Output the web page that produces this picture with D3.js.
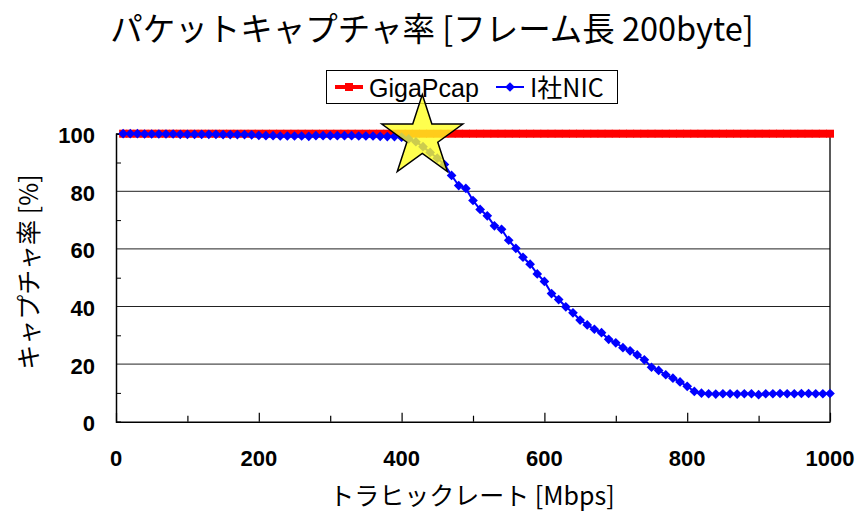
<!DOCTYPE html>
<html>
<head>
<meta charset="utf-8">
<script src="https://cdn.jsdelivr.net/npm/d3@7"></script>
<style>
  html, body { margin: 0; padding: 0; background: #fff; }
  svg { display: block; }
</style>
</head>
<body>
<svg id="chart" width="859" height="512"></svg>
<script>
// Traffic rate (Mbps) at each measurement point
const traffic = [
  10, 20, 30, 40, 50, 60, 70, 80, 90, 100,
  110, 120, 130, 140, 150, 160, 170, 180, 190, 200,
  210, 220, 230, 240, 250, 260, 270, 280, 290, 300,
  310, 320, 330, 340, 350, 360, 370, 380, 390, 400,
  410, 420, 430, 440, 450, 460, 470, 480, 490, 500,
  510, 520, 530, 540, 550, 560, 570, 580, 590, 600,
  610, 620, 630, 640, 650, 660, 670, 680, 690, 700,
  710, 720, 730, 740, 750, 760, 770, 780, 790, 800,
  810, 820, 830, 840, 850, 860, 870, 880, 890, 900,
  910, 920, 930, 940, 950, 960, 970, 980, 990, 1000
];

// Capture rate (%) — GigaPcap
const gigaPcap = [
  100, 100, 100, 100, 100, 100, 100, 100, 100, 100,
  100, 100, 100, 100, 100, 100, 100, 100, 100, 100,
  100, 100, 100, 100, 100, 100, 100, 100, 100, 100,
  100, 100, 100, 100, 100, 100, 100, 100, 100, 100,
  100, 100, 100, 100, 100, 100, 100, 100, 100, 100,
  100, 100, 100, 100, 100, 100, 100, 100, 100, 100,
  100, 100, 100, 100, 100, 100, 100, 100, 100, 100,
  100, 100, 100, 100, 100, 100, 100, 100, 100, 100,
  100, 100, 100, 100, 100, 100, 100, 100, 100, 100,
  100, 100, 100, 100, 100, 100, 100, 100, 100, 100
];

// Capture rate (%) — I社NIC
const nicI = [
  100, 100, 100, 99.9, 99.9, 99.9, 99.9, 99.9, 99.8, 99.8,
  99.8, 99.8, 99.8, 99.8, 99.7, 99.7, 99.7, 99.7, 99.6, 99.4,
  99.3, 99.3, 99.2, 99.2, 99.2, 99.2, 99.1, 99.3, 99.3, 99.3,
  99.3, 99.3, 99.3, 99.2, 99.2, 99.2, 99.1, 99.0, 99.0, 98.8,
  98.2, 97.2, 95.5, 93.5, 91.5, 89.3, 85.5, 82.0, 81.0, 76.8,
  73.7, 71.5, 68.0, 66.8, 63.0, 60.2, 57.1, 54.7, 51.3, 48.7,
  44.5, 42.4, 39.9, 37.8, 35.3, 33.6, 32.1, 30.9, 28.6, 27.4,
  25.7, 24.6, 23.2, 21.5, 18.9, 17.8, 16.3, 15.1, 13.8, 12.3,
  10.5, 9.9, 9.7, 9.6, 9.7, 9.7, 9.6, 9.7, 9.7, 9.4,
  9.7, 9.7, 9.8, 9.7, 9.7, 9.8, 9.8, 9.7, 9.7, 9.8
];

const xTicks = [0, 200, 400, 600, 800, 1000];
const xMinorTicks = [100, 300, 500, 700, 900];
const yTicks = [0, 20, 40, 60, 80, 100];
const yMinorTicks = [10, 30, 50, 70, 90];

const titleText = "パケットキャプチャ率 [フレーム長 200byte]";
const xLabel = "トラヒックレート [Mbps]";
const yLabel = "キャプチャ率 [%]";
const seriesNames = ["GigaPcap", "I社NIC"];

// Highlight star placed at the knee of the I社NIC curve
const starAt = { traffic: 429, rate: 98.8 };

const svg = d3.select("#chart");
const plot = { left: 116, right: 830, top: 133.7, bottom: 421.7 };

const x = d3.scaleLinear().domain([0, 1000]).range([plot.left, plot.right]);
const y = d3.scaleLinear().domain([0, 100]).range([plot.bottom, plot.top]);

const jpFont = "'Noto Sans CJK JP', 'Noto Sans', sans-serif";
const numFont = "'Liberation Sans', Arial, sans-serif";

// Title
svg.append("text")
  .attr("x", 432).attr("y", 26)
  .attr("text-anchor", "middle")
  .attr("dominant-baseline", "central")
  .attr("font-family", jpFont)
  .attr("font-size", 32.5)
  .text(titleText);

// Horizontal gridlines
svg.append("g").selectAll("line")
  .data(yTicks.filter(d => d > 0))
  .join("line")
  .attr("x1", plot.left).attr("x2", plot.right)
  .attr("y1", d => y(d)).attr("y2", d => y(d))
  .attr("stroke", "#222").attr("stroke-width", 1);

// Right border of plot area
svg.append("line")
  .attr("x1", plot.right).attr("x2", plot.right)
  .attr("y1", plot.top).attr("y2", plot.bottom)
  .attr("stroke", "#000").attr("stroke-width", 1.3);

// Y axis (ticks point into plot)
const yAxis = svg.append("g")
  .attr("transform", `translate(${plot.left},0)`)
  .call(d3.axisRight(y).tickValues(yMinorTicks).tickSize(5).tickFormat(""));
yAxis.select(".domain").attr("stroke", "#000").attr("stroke-width", 1.5);
yAxis.selectAll(".tick line").attr("stroke", "#000");

// X axis (ticks point up into plot)
const xAxisMinor = svg.append("g")
  .attr("transform", `translate(0,${plot.bottom})`)
  .call(d3.axisTop(x).tickValues(xMinorTicks).tickSize(6).tickFormat("").tickSizeOuter(0));
xAxisMinor.select(".domain").attr("stroke", "#000").attr("stroke-width", 1.5);
xAxisMinor.selectAll(".tick line").attr("stroke", "#000").attr("stroke-width", 1.2);
const xAxisMajor = svg.append("g")
  .attr("transform", `translate(0,${plot.bottom})`)
  .call(d3.axisTop(x).tickValues(xTicks).tickSize(9).tickFormat(""));
xAxisMajor.select(".domain").remove();
xAxisMajor.selectAll(".tick line").attr("stroke", "#000").attr("stroke-width", 1.2);

// Tick labels
svg.append("g").selectAll("text")
  .data(yTicks)
  .join("text")
  .attr("x", 95).attr("y", d => y(d) + 2)
  .attr("text-anchor", "end")
  .attr("dominant-baseline", "central")
  .attr("font-family", numFont).attr("font-weight", "bold")
  .attr("font-size", 22)
  .text(d => d);

svg.append("g").selectAll("text")
  .data(xTicks)
  .join("text")
  .attr("x", d => x(d)).attr("y", 458)
  .attr("text-anchor", "middle")
  .attr("dominant-baseline", "central")
  .attr("font-family", numFont).attr("font-weight", "bold")
  .attr("font-size", 22)
  .text(d => d);

// Axis titles
svg.append("text")
  .attr("x", 472).attr("y", 494)
  .attr("text-anchor", "middle")
  .attr("dominant-baseline", "central")
  .attr("font-family", jpFont)
  .attr("font-size", 25)
  .text(xLabel);

svg.append("text")
  .attr("transform", "translate(27,272) rotate(-90)")
  .attr("text-anchor", "middle")
  .attr("dominant-baseline", "central")
  .attr("font-family", jpFont)
  .attr("font-size", 25)
  .text(yLabel);

// Series data
const redData = traffic.map((t, i) => ({ t, v: gigaPcap[i] }));
const blueData = traffic.map((t, i) => ({ t, v: nicI[i] }));
const line = d3.line().x(d => x(d.t)).y(d => y(d.v));

// GigaPcap: red line with square markers
svg.append("path")
  .datum(redData)
  .attr("d", line)
  .attr("fill", "none").attr("stroke", "#ff0000").attr("stroke-width", 4);
svg.append("g").selectAll("rect")
  .data(redData)
  .join("rect")
  .attr("x", d => x(d.t) - 4).attr("y", d => y(d.v) - 4)
  .attr("width", 8).attr("height", 8)
  .attr("fill", "#ff0000");

// I社NIC: blue line with diamond markers
const diamond = d3.symbol().type(d3.symbolDiamond2).size(60);
svg.append("path")
  .datum(blueData)
  .attr("d", line)
  .attr("fill", "none").attr("stroke", "#0000ff").attr("stroke-width", 2);
svg.append("g").selectAll("path")
  .data(blueData)
  .join("path")
  .attr("transform", d => `translate(${x(d.t)},${y(d.v)})`)
  .attr("d", diamond)
  .attr("fill", "#0000ff");

// Legend
const legend = svg.append("g");
legend.append("rect")
  .attr("x", 326.5).attr("y", 70.5)
  .attr("width", 291).attr("height", 33)
  .attr("fill", "#fff").attr("stroke", "#000").attr("stroke-width", 1);

legend.append("line")
  .attr("x1", 335).attr("x2", 363).attr("y1", 87).attr("y2", 87)
  .attr("stroke", "#ff0000").attr("stroke-width", 4);
legend.append("rect")
  .attr("x", 345).attr("y", 83).attr("width", 8).attr("height", 8)
  .attr("fill", "#ff0000");
legend.append("text")
  .attr("x", 369).attr("y", 97)
  .attr("font-family", numFont).attr("font-size", 25)
  .text(seriesNames[0]);

legend.append("line")
  .attr("x1", 496).attr("x2", 524).attr("y1", 87).attr("y2", 87)
  .attr("stroke", "#0000ff").attr("stroke-width", 2);
legend.append("path")
  .attr("transform", "translate(510,87)")
  .attr("d", diamond)
  .attr("fill", "#0000ff");
legend.append("text")
  .attr("x", 530).attr("y", 97)
  .attr("font-family", jpFont).attr("font-size", 25)
  .text(seriesNames[1]);

// Highlight star, drawn on top of the series and the legend
const R = 42.6, r = R * 0.382;
const starPts = d3.range(10).map(i => {
  const a = -Math.PI / 2 + i * Math.PI / 5;
  const rad = i % 2 === 0 ? R : r;
  return [rad * Math.cos(a), rad * Math.sin(a)];
});
svg.append("path")
  .attr("transform", `translate(${x(starAt.traffic)},${y(starAt.rate)})`)
  .attr("d", d3.line()(starPts) + "Z")
  .attr("fill", "#ffff22").attr("fill-opacity", 0.8)
  .attr("stroke", "#000").attr("stroke-width", 1.5)
  .attr("stroke-linejoin", "miter");
</script>
</body>
</html>
